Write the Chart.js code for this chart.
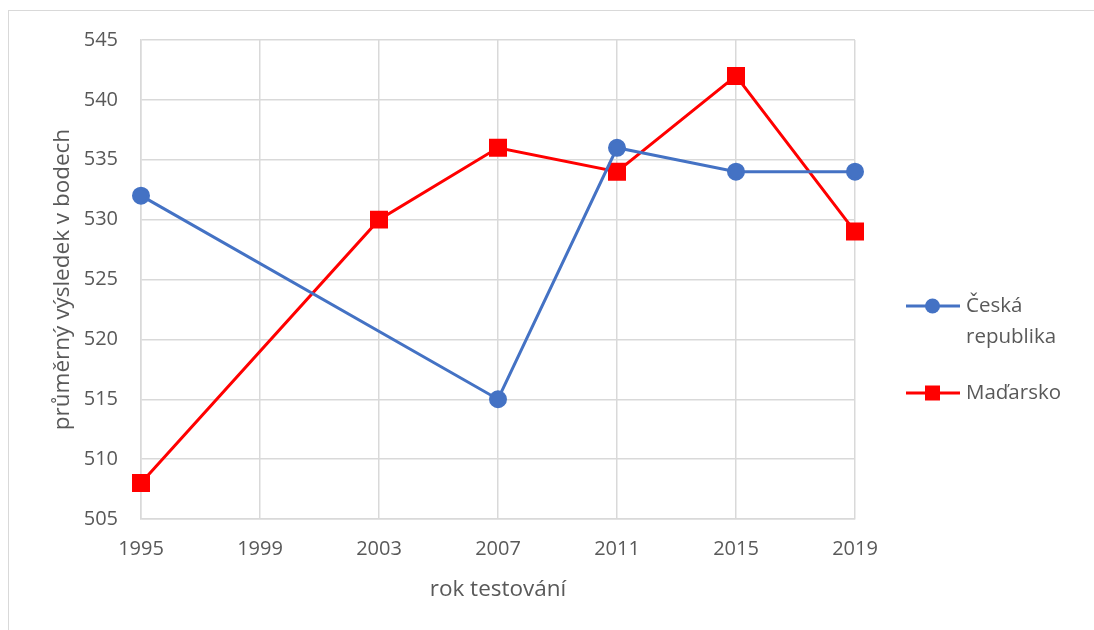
<!DOCTYPE html>
<html lang="cs">
<head>
<meta charset="utf-8">
<title>Výsledky testování</title>
<script src="https://cdn.jsdelivr.net/npm/chart.js@4"></script>
<style>
  html, body { margin: 0; padding: 0; background: #fff; }
  #wrap { position: relative; width: 1094px; height: 630px; overflow: hidden; }
  #frame { position: absolute; left: 8px; top: 10px; right: -2px; bottom: -2px;
           border-top: 1px solid #d9d9d9; border-left: 1px solid #d9d9d9; }
  canvas { position: absolute; left: 0; top: 0; }
</style>
</head>
<body>
<div id="wrap">
  <div id="frame"></div>
  <canvas id="scoreChart" width="1094" height="630"></canvas>
</div>
<script>
const years = ['1995', '1999', '2003', '2007', '2011', '2015', '2019'];
const czech = [532, null, null, 515, 536, 534, 534];
const hungary = [508, null, 530, 536, 534, 542, 529];

const textColor = '#595959';
const family = '"Open Sans", sans-serif';
const tickFont = { family: family, size: 20 };
const titleFont = { family: family, size: 22.5 };
const legendFont = { family: family, size: 20.5 };

// legend on the right, labels wrap onto two lines like the office charts
const sideLegend = {
    id: 'sideLegend',
    afterDraw(chart) {
        const ctx = chart.ctx;
        const x0 = 906, x1 = 960, tx = 966, maxW = 118;
        const rows = [306, 393];
        ctx.save();
        ctx.font = legendFont.size + 'px ' + legendFont.family;
        ctx.textBaseline = 'middle';
        chart.data.datasets.forEach((ds, i) => {
            const y = rows[i];
            ctx.strokeStyle = ds.borderColor;
            ctx.lineWidth = ds.borderWidth;
            ctx.beginPath();
            ctx.moveTo(x0, y);
            ctx.lineTo(x1, y);
            ctx.stroke();
            ctx.fillStyle = ds.backgroundColor;
            const cx = (x0 + x1) / 2 - 0.5;
            if (ds.pointStyle === 'rect') {
                ctx.fillRect(cx - 7.5, y - 7.5, 15, 15);
            } else {
                ctx.beginPath();
                ctx.arc(cx, y, 7.5, 0, Math.PI * 2);
                ctx.fill();
            }
            // wrap words
            const words = ds.label.split(' ');
            const lines = [];
            let cur = '';
            words.forEach(w => {
                const test = cur ? cur + ' ' + w : w;
                if (cur && ctx.measureText(test).width > maxW) {
                    lines.push(cur);
                    cur = w;
                } else {
                    cur = test;
                }
            });
            lines.push(cur);
            ctx.fillStyle = textColor;
            lines.forEach((l, j) => ctx.fillText(l, tx, y + j * 31));
        });
        ctx.restore();
    }
};

new Chart(document.getElementById('scoreChart'), {
    type: 'line',
    data: {
        labels: years,
        datasets: [{
            label: 'Česká republika',
            data: czech,
            borderColor: '#4472C4',
            backgroundColor: '#4472C4',
            borderWidth: 3,
            pointStyle: 'circle',
            pointRadius: 7.5,
            pointHoverRadius: 7.5,
            spanGaps: true,
            tension: 0
        }, {
            label: 'Maďarsko',
            data: hungary,
            borderColor: '#FF0000',
            backgroundColor: '#FF0000',
            borderWidth: 3,
            pointStyle: 'rect',
            pointRadius: 10.6,
            pointHoverRadius: 10.6,
            spanGaps: true,
            tension: 0
        }]
    },
    options: {
        responsive: false,
        animation: false,
        layout: { padding: { left: 0, top: 40, right: 239, bottom: 0 } },
        plugins: {
            legend: { display: false },
            tooltip: { enabled: false }
        },
        scales: {
            x: {
                offset: false,
                grid: { color: '#d9d9d9', lineWidth: 1.5, drawTicks: false },
                border: { color: '#d9d9d9', width: 1.5 },
                ticks: { color: textColor, font: tickFont, padding: 18, maxRotation: 0 },
                title: {
                    display: true,
                    text: 'rok testování',
                    color: textColor,
                    font: titleFont,
                    padding: { top: 0, bottom: 27 }
                },
                afterFit(scale) { scale.height = 111; }
            },
            y: {
                min: 505,
                max: 545,
                grid: { color: '#d9d9d9', lineWidth: 1.5, drawTicks: false },
                border: { color: '#d9d9d9', width: 1.5 },
                ticks: { stepSize: 5, color: textColor, font: tickFont, padding: 23 },
                title: {
                    display: true,
                    text: 'průměrný výsledek v bodech',
                    color: textColor,
                    font: titleFont,
                    padding: { top: 49, bottom: 0 }
                },
                afterFit(scale) { scale.width = 141; }
            }
        }
    },
    plugins: [sideLegend]
});
</script>
</body>
</html>
